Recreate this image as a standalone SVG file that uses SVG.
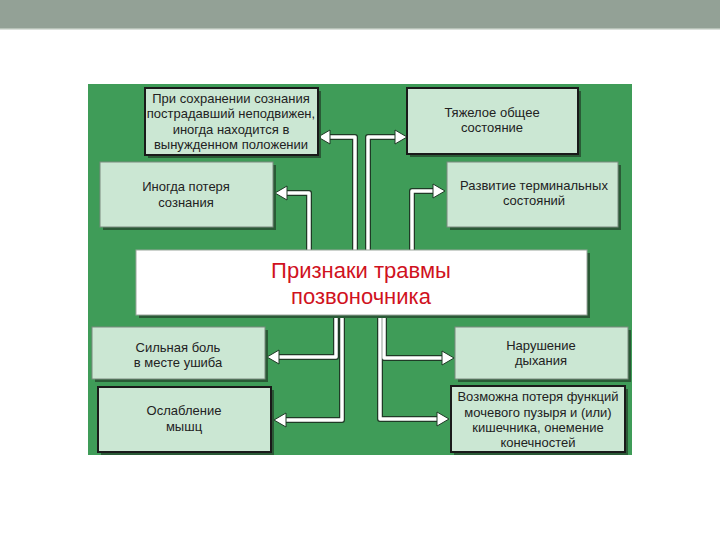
<svg xmlns="http://www.w3.org/2000/svg" width="720" height="540" viewBox="0 0 720 540">
<defs>
<style>
.box{fill:#cbe7d3}
.dark{stroke:#1a1a1a;stroke-width:2}
.light{stroke:#7a8a7e;stroke-width:1}
.sh{fill:#2a5a36}
.t{font-family:"Liberation Sans",Arial,sans-serif;font-size:13px;fill:#222;text-anchor:middle}
.title{font-family:"Liberation Sans",Arial,sans-serif;font-size:22px;fill:#d0121e;text-anchor:middle}
.co{fill:none;stroke:#1f3a26;stroke-width:6;stroke-linejoin:round}
.ci{fill:none;stroke:#ffffff;stroke-width:3.5;stroke-linejoin:round}
.ah{fill:#ffffff;stroke:#1f3a26;stroke-width:1}
</style>
</defs>
<rect width="720" height="540" fill="#ffffff"/>
<rect x="0" y="0" width="720" height="28" fill="#93a196"/>
<rect x="0" y="28" width="720" height="1.5" fill="#b7c2b8"/>
<rect x="88" y="84" width="544" height="371" fill="#3f9c58"/>

<g id="connectors">
<path class="co" d="M336,315 V357 H276 M342,315 V420 H283 M380,315 V419 H440 M384,315 V358 H445 M309,250 V193 H284 M355,250 V137 H327 M368,250 V137 H398 M412,250 V191 H436"/>
<path class="ci" d="M336,315 V357 H276 M342,315 V420 H283 M380,315 V419 H440 M384,315 V358 H445 M309,250 V193 H284 M355,250 V137 H327 M368,250 V137 H398 M412,250 V191 H436"/>
<polygon class="ah" points="267,357 279,350 279,364"/>
<polygon class="ah" points="274,420 286,413 286,427"/>
<polygon class="ah" points="449,419 437,412 437,426"/>
<polygon class="ah" points="454,358 442,351 442,365"/>
<polygon class="ah" points="275,193 287,186 287,200"/>
<polygon class="ah" points="318,137 330,130 330,144"/>
<polygon class="ah" points="407,137 395,130 395,144"/>
<polygon class="ah" points="445,191 433,184 433,198"/>
</g>

<g id="center">
<rect x="139" y="253" width="451" height="65" class="sh"/>
<rect x="136" y="250" width="451" height="65" fill="#ffffff" stroke="#9aa59c" stroke-width="1"/>
<text class="title" x="361" y="278">Признаки травмы</text>
<text class="title" x="361" y="304">позвоночника</text>
</g>

<g id="n1">
<rect x="148" y="91" width="173" height="67" class="sh"/>
<rect x="145" y="88" width="173" height="67" class="box dark"/>
<text class="t" x="231" y="103">При сохранении сознания</text>
<text class="t" x="231" y="118">пострадавший неподвижен,</text>
<text class="t" x="231" y="134">иногда находится в</text>
<text class="t" x="231" y="149">вынужденном положении</text>
</g>

<g id="n2">
<rect x="103" y="165" width="173" height="65" class="sh"/>
<rect x="100" y="162" width="173" height="65" class="box light"/>
<text class="t" x="186" y="191">Иногда потеря</text>
<text class="t" x="186" y="207">сознания</text>
</g>

<g id="n3">
<rect x="410" y="91" width="171" height="66" class="sh"/>
<rect x="407" y="88" width="171" height="66" class="box dark"/>
<text class="t" x="492" y="117">Тяжелое общее</text>
<text class="t" x="492" y="132">состояние</text>
</g>

<g id="n4">
<rect x="450" y="165" width="171" height="65" class="sh"/>
<rect x="447" y="162" width="171" height="65" class="box light"/>
<text class="t" x="534" y="190">Развитие терминальных</text>
<text class="t" x="534" y="205">состояний</text>
</g>

<g id="n5">
<rect x="95" y="330" width="173" height="52" class="sh"/>
<rect x="92" y="327" width="173" height="52" class="box light"/>
<text class="t" x="178" y="352">Сильная боль</text>
<text class="t" x="178" y="367">в месте ушиба</text>
</g>

<g id="n6">
<rect x="101" y="390" width="173" height="65" class="sh"/>
<rect x="98" y="387" width="173" height="65" class="box dark"/>
<text class="t" x="184" y="415">Ослабление</text>
<text class="t" x="184" y="431">мышц</text>
</g>

<g id="n7">
<rect x="458" y="330" width="173" height="52" class="sh"/>
<rect x="455" y="327" width="173" height="52" class="box light"/>
<text class="t" x="541" y="350">Нарушение</text>
<text class="t" x="541" y="365">дыхания</text>
</g>

<g id="n8">
<rect x="454" y="389" width="174" height="66" class="sh"/>
<rect x="451" y="386" width="174" height="66" class="box dark"/>
<text class="t" x="538" y="401">Возможна потеря функций</text>
<text class="t" x="538" y="417">мочевого пузыря и (или)</text>
<text class="t" x="538" y="432">кишечника, онемение</text>
<text class="t" x="538" y="447">конечностей</text>
</g>
</svg>
